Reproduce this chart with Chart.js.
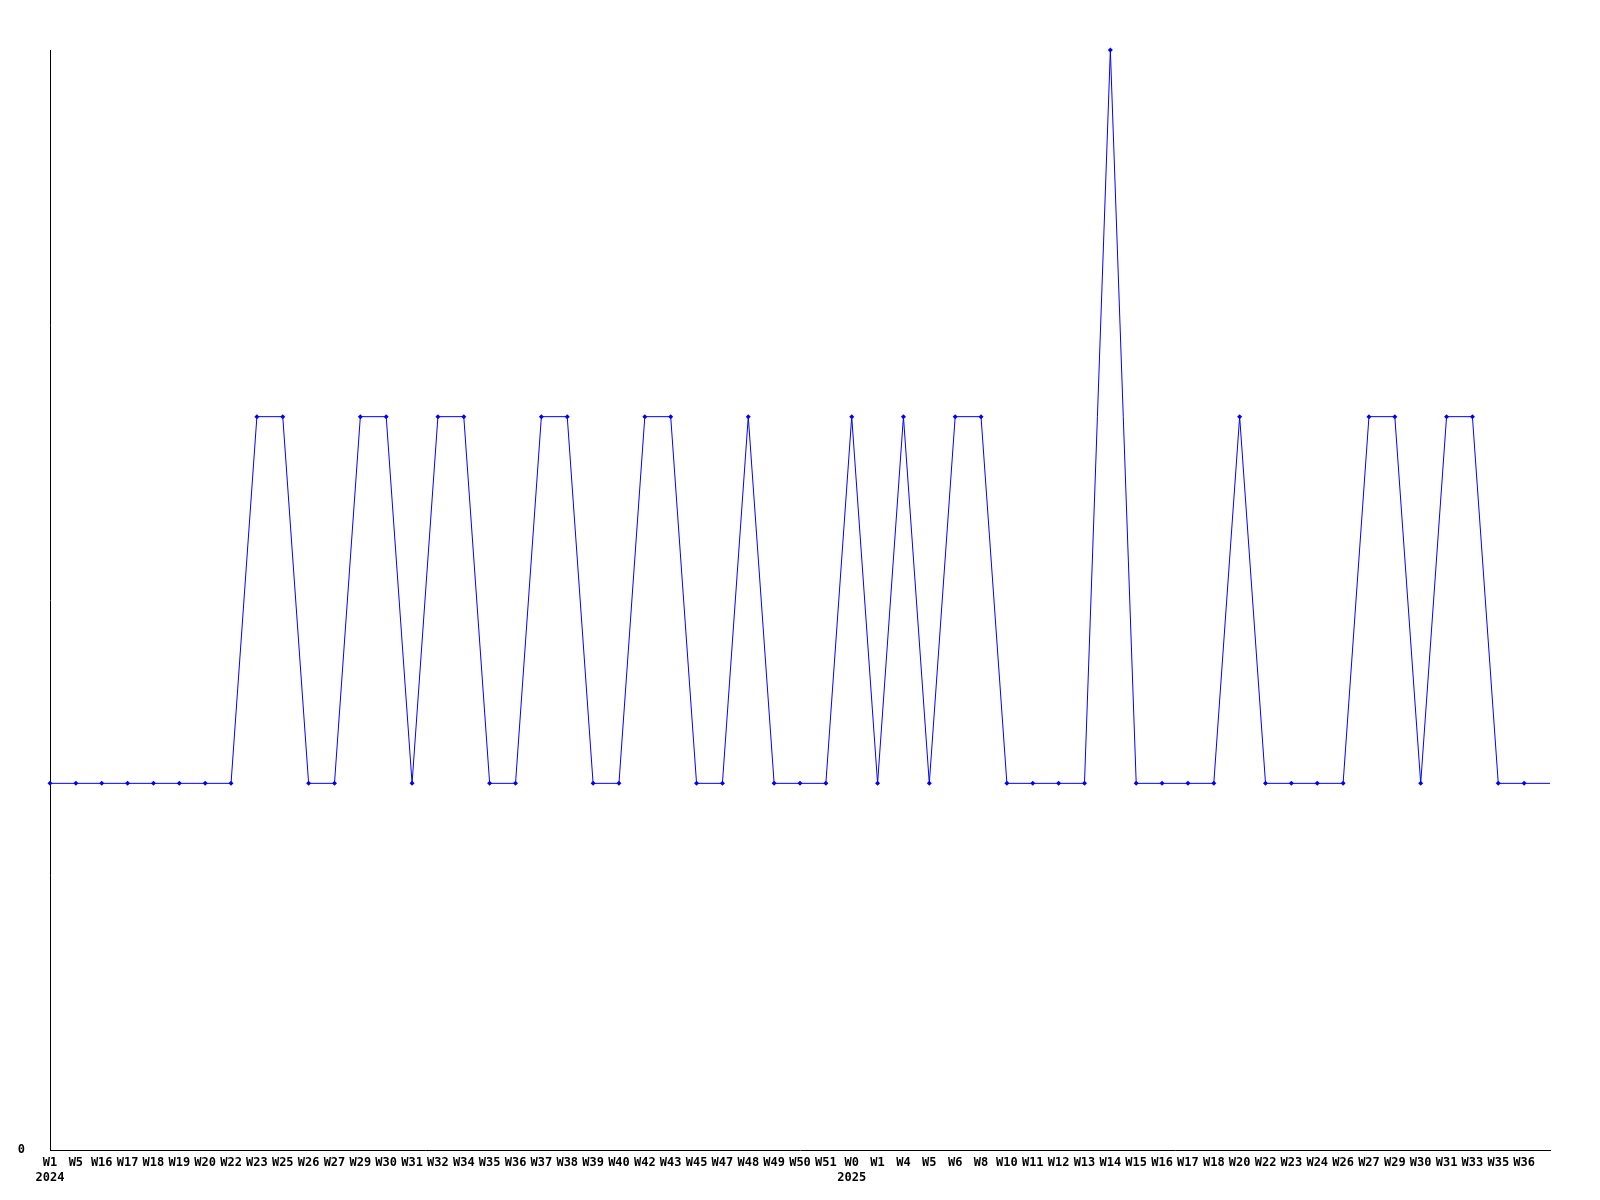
<!DOCTYPE html>
<html>
<head>
<meta charset="utf-8">
<script src="https://cdn.jsdelivr.net/npm/chart.js@4.4.1/dist/chart.umd.min.js"></script>
<style>
html,body{margin:0;padding:0;background:#fff;}
#wrap{width:1600px;height:1200px;position:relative;}
</style>
</head>
<body>
<div id="wrap"><canvas id="c" width="1600" height="1200"></canvas></div>
<script>
const weekLabels = ["W1","W5","W16","W17","W18","W19","W20","W22","W23","W25","W26","W27","W29","W30","W31","W32","W34","W35","W36","W37","W38","W39","W40","W42","W43","W45","W47","W48","W49","W50","W51",
  "W0","W1","W4","W5","W6","W8","W10","W11","W12","W13","W14","W15","W16","W17","W18","W20","W22","W23","W24","W26","W27","W29","W30","W31","W33","W35","W36",""];
const yearLabels = {0: "2024", 31: "2025"};
const values = [1,1,1,1,1,1,1,1,2,2,1,1,2,2,1,2,2,1,1,2,2,1,1,2,2,1,1,2,1,1,1,
  2,1,2,1,2,2,1,1,1,1,3,1,1,1,1,2,1,1,1,1,2,2,1,2,2,1,1,1];
const yTickLabels = {0: "0"};

const labels = weekLabels.map((w, i) => yearLabels[i] ? [w, yearLabels[i]] : w);
const radii = values.map((v, i) => weekLabels[i] === "" ? 0 : 2.5);

const font = {family: "'DejaVu Sans Mono', monospace", size: 12, weight: 'bold', lineHeight: 1.25};

new Chart(document.getElementById('c'), {
  type: 'line',
  data: {
    labels: labels,
    datasets: [{
      data: values,
      borderColor: '#0000ff',
      backgroundColor: '#0000ff',
      borderWidth: 1,
      pointStyle: 'rect',
      pointRotation: 45,
      pointRadius: radii,
      pointHoverRadius: radii,
      pointBorderWidth: 0,
      tension: 0,
      fill: false,
      clip: false
    }]
  },
  options: {
    responsive: false,
    animation: false,
    devicePixelRatio: 1,
    layout: {padding: {top: 50, right: 50, left: 0, bottom: 0}},
    plugins: {legend: {display: false}, tooltip: {enabled: false}},
    scales: {
      x: {
        offset: false,
        grid: {display: false, drawTicks: false},
        border: {display: true, color: '#000', width: 1},
        ticks: {
          autoSkip: false, maxRotation: 0, minRotation: 0,
          color: '#000', font: font, padding: 5
        },
        afterFit: s => { s.height = 50; }
      },
      y: {
        min: 0, max: 3,
        grid: {display: false, drawTicks: false},
        border: {display: true, color: '#000', width: 1},
        ticks: {
          stepSize: 1, color: '#000', font: font, padding: 25,
          callback: v => (yTickLabels[v] !== undefined ? yTickLabels[v] : '')
        },
        afterFit: s => { s.width = 50; }
      }
    }
  }
});
</script>
</body>
</html>
